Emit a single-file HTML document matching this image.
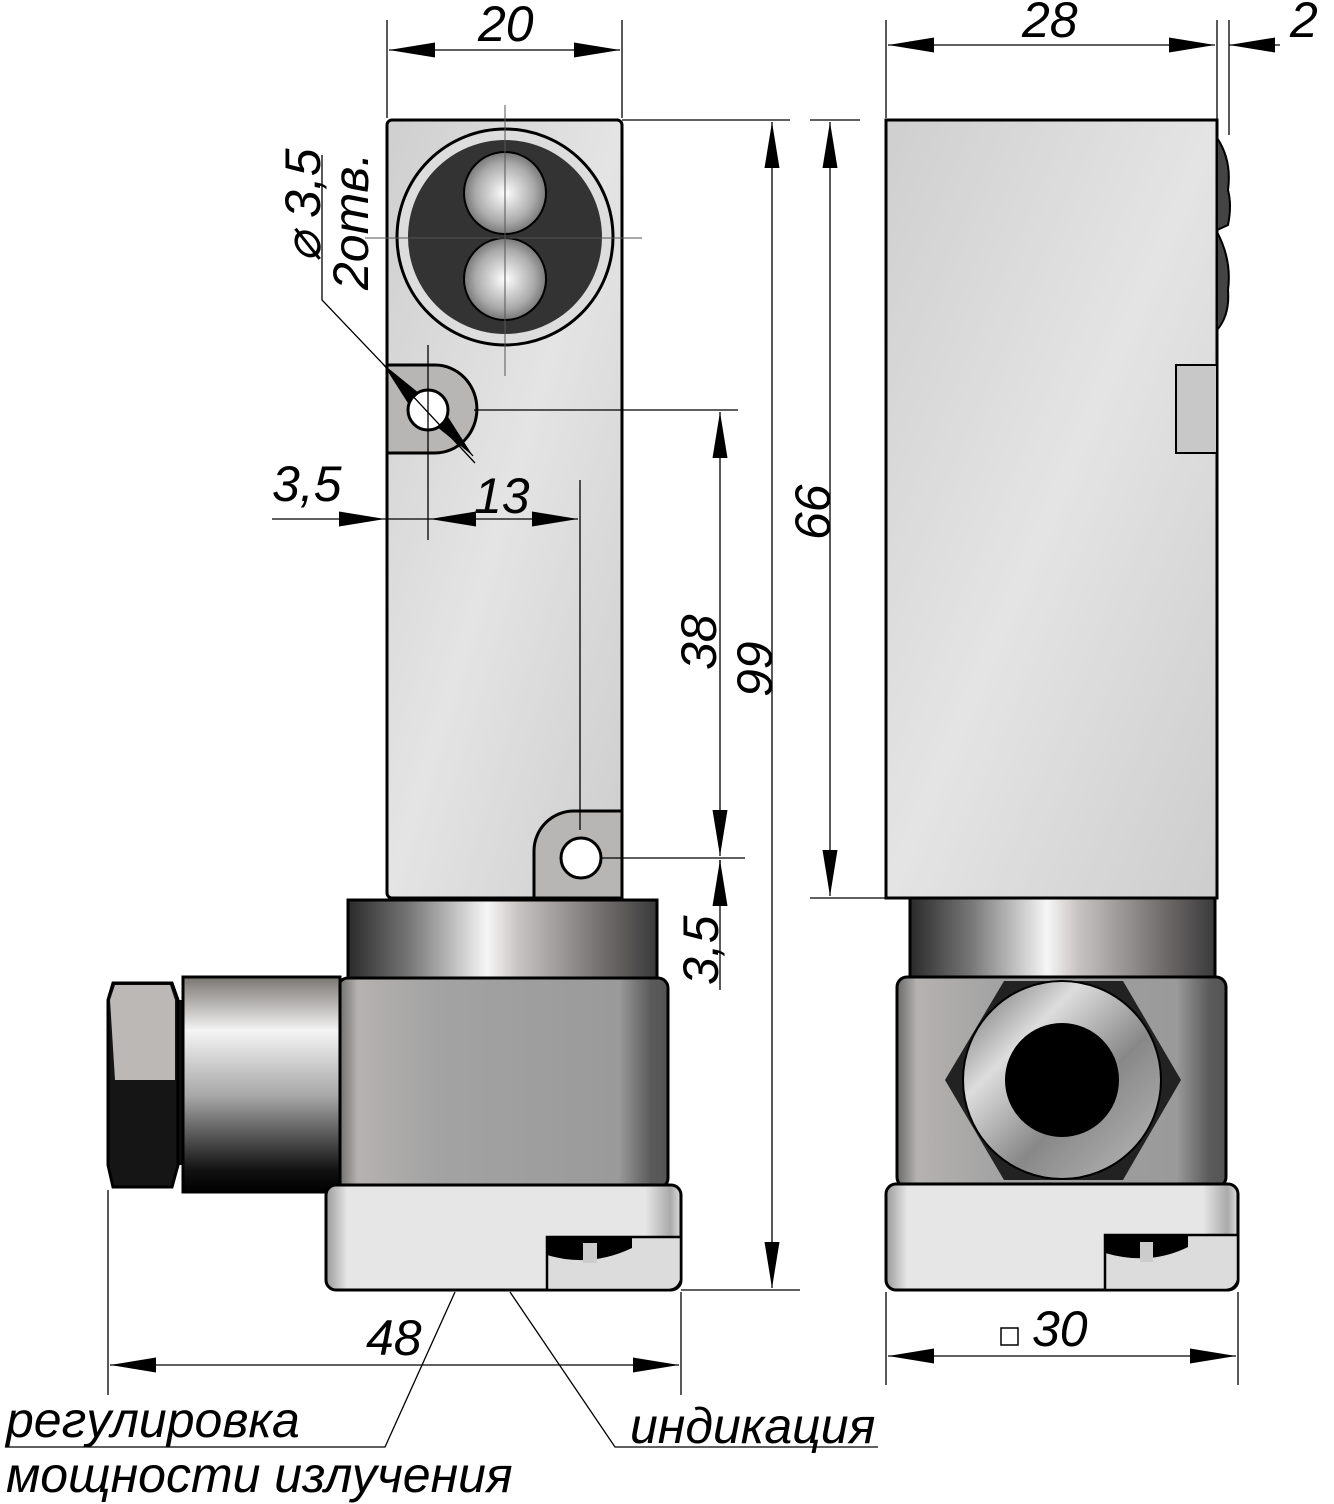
<!DOCTYPE html>
<html><head><meta charset="utf-8"><style>
html,body{margin:0;padding:0;background:#fff}
svg{display:block}
text{font-family:"Liberation Sans",sans-serif;font-style:italic;fill:#000}
</style></head><body>
<svg width="1334" height="1504" viewBox="0 0 1334 1504" xmlns="http://www.w3.org/2000/svg">
<defs>
<linearGradient id="body" x1="0" y1="0" x2="1" y2="1">
<stop offset="0" stop-color="#cfcfcf"/><stop offset=".5" stop-color="#e4e4e4"/><stop offset="1" stop-color="#cdcdcd"/></linearGradient>
<linearGradient id="collar" x1="0" y1="0" x2="1" y2="0">
<stop offset="0" stop-color="#2a2a2a"/><stop offset=".2" stop-color="#777"/><stop offset=".45" stop-color="#f6f6f6"/><stop offset=".55" stop-color="#c8c4c2"/><stop offset=".85" stop-color="#6a6666"/><stop offset="1" stop-color="#3a3a3a"/></linearGradient>
<linearGradient id="house" x1="0" y1="0" x2="1" y2="0">
<stop offset="0" stop-color="#6a6a6a"/><stop offset=".06" stop-color="#b5b2b0"/><stop offset=".3" stop-color="#a3a3a3"/><stop offset=".85" stop-color="#9a9a9a"/><stop offset=".95" stop-color="#5a5a5a"/><stop offset="1" stop-color="#555"/></linearGradient>
<linearGradient id="cap" x1="0" y1="0" x2="1" y2="0">
<stop offset="0" stop-color="#9a9a9a"/><stop offset=".06" stop-color="#e6e6e6"/><stop offset=".9" stop-color="#e6e6e6"/><stop offset=".97" stop-color="#aaa"/><stop offset="1" stop-color="#ddd"/></linearGradient>
<linearGradient id="cyl" x1="0" y1="0" x2="0" y2="1">
<stop offset="0" stop-color="#7a7672"/><stop offset=".25" stop-color="#f4f4f4"/><stop offset=".55" stop-color="#a8a8a8"/><stop offset=".9" stop-color="#111"/><stop offset="1" stop-color="#000"/></linearGradient>
<radialGradient id="ball" cx=".5" cy=".5" r=".6">
<stop offset="0" stop-color="#fff"/><stop offset=".6" stop-color="#aaa"/><stop offset="1" stop-color="#555"/></radialGradient>
<linearGradient id="nut" x1="0" y1="0" x2="1" y2="1">
<stop offset="0" stop-color="#666"/><stop offset=".3" stop-color="#ddd"/><stop offset=".6" stop-color="#888"/><stop offset="1" stop-color="#bbb"/></linearGradient>
<marker id="a" viewBox="0 0 10 10" refX="10" refY="5" markerWidth="46" markerHeight="15" markerUnits="userSpaceOnUse" orient="auto-start-reverse" preserveAspectRatio="none"><path d="M0,0 L10,5 L0,10Z" fill="#000"/></marker>
</defs>

<rect x="387" y="120" width="235" height="778" rx="5" fill="url(#body)" stroke="#000" stroke-width="3"/>
<circle cx="505" cy="237" r="108" fill="#ddd" stroke="#000" stroke-width="3"/>
<circle cx="505" cy="237" r="97" fill="#333"/>
<circle cx="505" cy="193" r="41" fill="url(#ball)" stroke="#000" stroke-width="2"/>
<circle cx="505" cy="279" r="41" fill="url(#ball)" stroke="#000" stroke-width="2"/>
<g stroke="#555" stroke-width="1"><line x1="505" y1="105" x2="505" y2="376"/><line x1="365" y1="238" x2="642" y2="238"/></g>
<path d="M387,365 H435 A40,42 0 0 1 435,453 H387Z" fill="#b8b6b4" stroke="#000" stroke-width="3"/>
<circle cx="428" cy="410" r="20" fill="#fff" stroke="#000" stroke-width="3"/>
<path d="M622,811 H574 A40,40 0 0 0 534,851 V898 H622Z" fill="#b8b6b4" stroke="#000" stroke-width="3"/>
<circle cx="581" cy="858" r="20" fill="#fff" stroke="#000" stroke-width="3"/>
<rect x="348" y="900" width="309" height="78" fill="url(#collar)" stroke="#000" stroke-width="3"/>
<rect x="338" y="978" width="330" height="210" rx="10" fill="url(#house)" stroke="#000" stroke-width="3"/>
<rect x="178" y="1000" width="8" height="165" fill="#111"/>
<rect x="183" y="977" width="157" height="215" fill="url(#cyl)" stroke="#000" stroke-width="3"/>
<path d="M113,983 H172 L178,1000 V1165 L172,1187 H113 L108,1165 V1000Z" fill="#151515" stroke="#000" stroke-width="3"/>
<path d="M115,985 H170 L175,1000 V1080 H115 L110,1000Z" fill="#bbb8b6"/>
<rect x="326" y="1185" width="355" height="105" rx="10" fill="url(#cap)" stroke="#000" stroke-width="3"/>
<path d="M547,1237 H681 V1280 Q678,1290 668,1290 H547Z" fill="#dcdcdc" stroke="#000" stroke-width="2.5"/>
<path d="M547,1240 Q547,1236 552,1236 H632 V1248 Q590,1268 547,1255Z" fill="#000"/>
<rect x="583" y="1243" width="14" height="20" fill="#ccc"/>

<rect x="886" y="120" width="331" height="778" fill="url(#body)" stroke="#000" stroke-width="3"/>
<path d="M1217,138 Q1232,160 1228,190 Q1232,205 1228,225 L1217,230Z M1217,232 Q1232,260 1228,290 Q1230,315 1217,330Z" fill="#444" stroke="#000" stroke-width="2"/>
<rect x="1176" y="365" width="41" height="88" fill="#c8c8c8" stroke="#000" stroke-width="2"/>
<rect x="910" y="898" width="305" height="80" fill="url(#collar)" stroke="#000" stroke-width="3"/>
<rect x="897" y="977" width="329" height="210" rx="10" fill="url(#house)" stroke="#000" stroke-width="3"/>
<polygon points="1004,981 1123,981 1181,1080 1123,1180 1004,1180 945,1080" fill="#222"/>
<circle cx="1062" cy="1080" r="99" fill="url(#nut)" stroke="#000" stroke-width="2"/>
<circle cx="1062" cy="1080" r="57" fill="#000"/>
<rect x="886" y="1184" width="352" height="106" rx="10" fill="url(#cap)" stroke="#000" stroke-width="3"/>
<path d="M1105,1235 H1238 V1280 Q1235,1290 1225,1290 H1105Z" fill="#dcdcdc" stroke="#000" stroke-width="2.5"/>
<path d="M1105,1240 Q1105,1235 1110,1235 H1188 V1247 Q1150,1266 1105,1253Z" fill="#000"/>
<rect x="1140" y="1242" width="13" height="20" fill="#ccc"/>

<g stroke="#000" stroke-width="1.3" fill="none">
<line x1="387" y1="20" x2="387" y2="118"/><line x1="622" y1="20" x2="622" y2="118"/>
<line x1="389" y1="50" x2="620" y2="50" marker-start="url(#a)" marker-end="url(#a)"/>
<line x1="886" y1="20" x2="886" y2="118"/><line x1="1217" y1="20" x2="1217" y2="135"/><line x1="1229" y1="20" x2="1229" y2="135"/>
<line x1="888" y1="45" x2="1215" y2="45" marker-start="url(#a)" marker-end="url(#a)"/>
<line x1="1229" y1="45" x2="1280" y2="45" marker-start="url(#a)"/>
<line x1="622" y1="120" x2="790" y2="120"/><line x1="810" y1="120" x2="860" y2="120"/>
<line x1="810" y1="898" x2="886" y2="898"/>
<line x1="681" y1="1290" x2="800" y2="1290"/>
<line x1="772" y1="122" x2="772" y2="1288" marker-start="url(#a)" marker-end="url(#a)"/>
<line x1="830" y1="122" x2="830" y2="896" marker-start="url(#a)" marker-end="url(#a)"/>
<line x1="474" y1="410" x2="738" y2="410"/>
<line x1="600" y1="858" x2="745" y2="858"/>
<line x1="720" y1="412" x2="720" y2="856" marker-start="url(#a)" marker-end="url(#a)"/>
<line x1="720" y1="860" x2="720" y2="990"/>
<line x1="720" y1="906" x2="720" y2="860" marker-end="url(#a)"/>
<line x1="428" y1="345" x2="428" y2="540"/>
<line x1="580" y1="480" x2="580" y2="830"/>
<line x1="272" y1="519" x2="385" y2="519" marker-end="url(#a)"/>
<line x1="385" y1="519" x2="430" y2="519"/>
<line x1="430" y1="519" x2="578" y2="519" marker-start="url(#a)" marker-end="url(#a)"/>
<polyline points="322,155 322,300 383,364 475,463"/>
<line x1="400" y1="383" x2="383" y2="364" marker-end="url(#a)"/>
<line x1="456" y1="437" x2="473" y2="456" marker-end="url(#a)"/>
<line x1="108" y1="1190" x2="108" y2="1395"/><line x1="681" y1="1292" x2="681" y2="1395"/>
<line x1="110" y1="1365" x2="679" y2="1365" marker-start="url(#a)" marker-end="url(#a)"/>
<line x1="886" y1="1292" x2="886" y2="1385"/><line x1="1238" y1="1292" x2="1238" y2="1385"/>
<line x1="888" y1="1356" x2="1236" y2="1356" marker-start="url(#a)" marker-end="url(#a)"/>
<rect x="1001" y="1328" width="17" height="17" stroke-width="1.5"/>
<polyline points="455,1292 385,1447 5,1447"/>
<polyline points="510,1292 615,1447 878,1447"/>
</g>

<g font-size="50">
<text x="478" y="41">20</text>
<text x="1022" y="37">28</text>
<text x="1290" y="37">2</text>
<text x="272" y="501">3,5</text>
<text x="474" y="513">13</text>
<text x="366" y="1355">48</text>
<text x="1032" y="1346">30</text>
<text transform="translate(830,540) rotate(-90)">66</text>
<text transform="translate(772,697) rotate(-90)">99</text>
<text transform="translate(716,670) rotate(-90)">38</text>
<text transform="translate(718,985) rotate(-90)">3,5</text>
<text transform="translate(320,262) rotate(-90)">⌀ 3,5</text>
<text transform="translate(368,290) rotate(-90)">2отв.</text>
</g>
<g font-size="50">
<text x="6" y="1437">регулировка</text>
<text x="6" y="1492">мощности излучения</text>
<text x="630" y="1443">индикация</text>
</g>
</svg>
</body></html>
